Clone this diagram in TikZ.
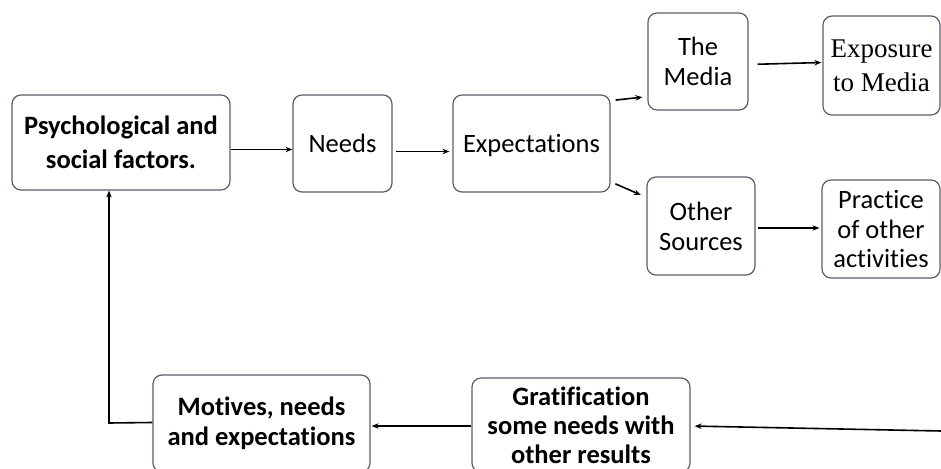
\documentclass[tikz,border=0pt]{standalone}
\usepackage{fontspec}
\setmainfont[Ligatures=NoCommon,RawFeature=-liga]{Carlito}
\newfontfamily\serifbox{Liberation Serif}
\usetikzlibrary{arrows.meta,calc}
\definecolor{boxline}{HTML}{56606B}
\tikzset{
  box/.style={draw=boxline, line width=1.2pt, rounded corners=9pt, align=center, inner sep=2pt, font=\fontsize{26.5}{30}\selectfont},
  boldbox/.style={box, font=\fontsize{26.5}{30}\selectfont\bfseries},
  arr/.style={-{Stealth[length=7pt,width=5.5pt]}, line width=1.6pt, black},
}
\begin{document}
\begin{tikzpicture}[x=1pt,y=1pt]
\useasboundingbox (0,0) rectangle (941,468);
\clip (0,0) rectangle (941,468);
\fill[white] (0,0) rectangle (941,468);
\node[boldbox, minimum width=218pt, minimum height=95pt, font=\fontsize{26.5}{34}\selectfont\bfseries] (psych) at (121,325.5) {Psychological and\\social factors.};
\node[box, minimum width=99pt, minimum height=97pt] (needs) at (342.5,324.5) {Needs};
\node[box, minimum width=157pt, minimum height=97pt, text height=22pt] (expect) at (531.5,324.5) {Expectations};
\node[box, minimum width=100pt, minimum height=97pt] (media) at (698,406.5) {The\\Media};
\node[box, minimum width=117pt, minimum height=99pt, font=\serifbox\fontsize{27}{34}\selectfont] (expo) at (881.5,402.5) {Exposure\\to Media};
\node[box, minimum width=108pt, minimum height=98pt] (other) at (701,242) {Other\\Sources};
\node[box, minimum width=118pt, minimum height=98pt, font=\fontsize{26.5}{29.5}\selectfont] (practice) at (881,239) {Practice\\of other\\activities};
\node[boldbox, minimum width=217pt, minimum height=97pt] (motives) at (261.5,44.5) {Motives, needs\\and expectations};
\node[boldbox, minimum width=218pt, minimum height=94pt, font=\fontsize{26.5}{29}\selectfont\bfseries] (grat) at (581,43) {Gratification\\some needs with\\other results};
\coordinate (corner) at (109,45);
\coordinate (rin) at (941,37);
\draw[arr] ([yshift=-7pt]psych.east) -- ([yshift=-7pt]psych.east -| needs.west);
\draw[arr, shorten <=3pt, shorten >=3pt] ([yshift=-8pt]needs.east) -- ([yshift=-8pt]needs.east -| expect.west);
\draw[arr, shorten <=3pt, shorten >=5pt] ([xshift=2pt,yshift=-6pt]expect.north east) -- ([yshift=14pt]media.south west);
\draw[arr, shorten <=3pt, shorten >=6pt] ([xshift=2pt,yshift=10pt]expect.south east) -- ([yshift=-21pt]other.north west);
\draw[arr, shorten <=9pt, shorten >=1pt] ([yshift=-3pt]media.east) -- ([yshift=-1pt]media.east -| expo.west);
\draw[arr, shorten <=2pt, shorten >=2pt] ([yshift=-2pt]other.east) -- ([yshift=-2pt]other.east -| practice.west);
\draw[arr, shorten >=4pt] (rin) -- ([yshift=-1pt]grat.east);
\draw[arr, shorten >=1pt] ([yshift=-1pt]grat.west) -- ([yshift=-1pt]grat.west -| motives.east);
\draw[arr] ([yshift=1pt]motives.west) -- (corner) -- (corner |- psych.south);
\end{tikzpicture}
\end{document}
